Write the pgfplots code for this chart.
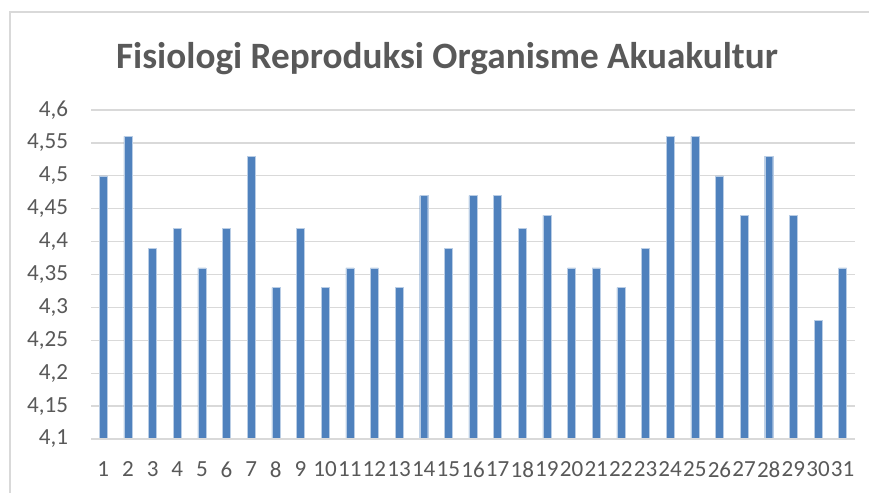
\documentclass[border=0pt]{standalone}
\usepackage{fontspec}
\setmainfont{Carlito}
\usepackage{pgfplots}
\pgfplotsset{compat=1.18}
\definecolor{barblue}{HTML}{4F81BD}
\definecolor{gridgray}{HTML}{D9D9D9}
\definecolor{txtgray}{HTML}{595959}
\begin{document}
\begin{tikzpicture}
\useasboundingbox (0,0) rectangle (651.75pt,369.75pt);
\fill[white] (0,0) rectangle (651.75pt,369.75pt);
\draw[gridgray,line width=1.2pt] (7.5pt,0) -- (7.5pt,360.75pt) -- (651.75pt,360.75pt);
\node[txtgray,font=\fontsize{27.9}{32}\selectfont\bfseries] at (335.25pt,326pt) {Fisiologi Reproduksi Organisme Akuakultur};
\begin{axis}[
  at={(68.25pt,40.5pt)}, anchor=south west,
  scale only axis, width=573pt, height=246.75pt,
  ybar, bar width=6pt,
  xmin=0.5, xmax=31.5, ymin=4.1, ymax=4.6,
  xtick={1,...,31},
  ytick={4.1,4.15,4.2,4.25,4.3,4.35,4.4,4.45,4.5,4.55,4.6},
  yticklabels={{4,1},{4,15},{4,2},{4,25},{4,3},{4,35},{4,4},{4,45},{4,5},{4,55},{4,6}},
  ymajorgrids, grid style={gridgray,line width=1pt},
  axis line style={draw=none},
  axis x line*=bottom, axis y line*=left,
  major tick length=0pt, tick style={draw=none},
  yticklabel style={anchor=east, inner sep=0pt, xshift=-17pt, txtgray, font=\fontsize{17.3}{20}\selectfont},
  xticklabel style={anchor=north, inner sep=0pt, yshift=-17pt, txtgray, font=\fontsize{17.3}{20}\selectfont},
  /pgf/number format/assume math mode=true,
  clip=false,
]
\addplot[fill=barblue, draw=barblue!40, line width=0.3pt, bar shift=0pt] coordinates {
(1,4.50) (2,4.56) (3,4.39) (4,4.42) (5,4.36) (6,4.42) (7,4.53) (8,4.33) (9,4.42) (10,4.33)
(11,4.36) (12,4.36) (13,4.33) (14,4.47) (15,4.39) (16,4.47) (17,4.47) (18,4.42) (19,4.44) (20,4.36)
(21,4.36) (22,4.33) (23,4.39) (24,4.56) (25,4.56) (26,4.50) (27,4.44) (28,4.53) (29,4.44) (30,4.28)
(31,4.36)};
\draw[gridgray,line width=1pt] (axis cs:0.5,4.1) -- (axis cs:31.5,4.1);
\end{axis}
\end{tikzpicture}
\end{document}
